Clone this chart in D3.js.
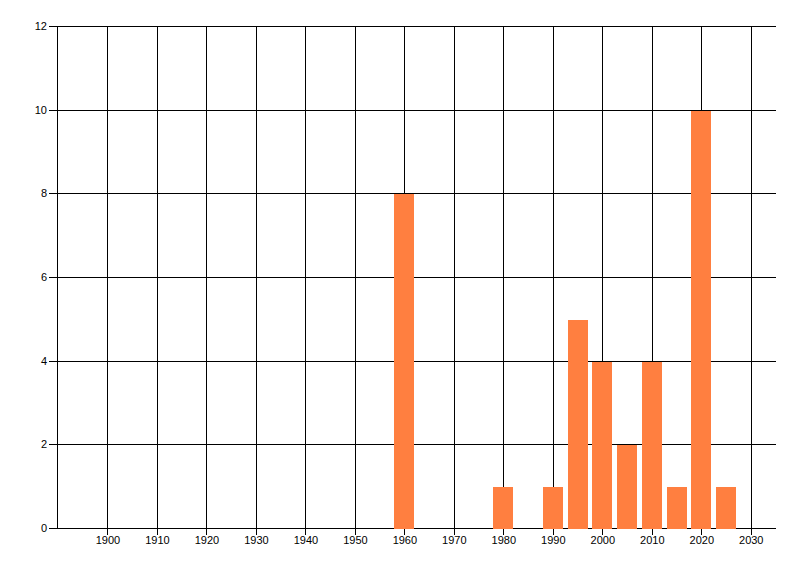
<!DOCTYPE html>
<html><head><meta charset="utf-8">
<script src="https://cdn.jsdelivr.net/npm/d3@7"></script>
<style>html,body{margin:0;padding:0;background:#fff;}svg{display:block;}</style>
</head><body>
<script>
const years = [1960, 1980, 1990, 1995, 2000, 2005, 2010, 2015, 2020, 2025];
const counts = [8, 1, 1, 5, 4, 2, 4, 1, 10, 1];
const xTicks = [1900, 1910, 1920, 1930, 1940, 1950, 1960, 1970, 1980, 1990, 2000, 2010, 2020, 2030];
const yTicks = [0, 2, 4, 6, 8, 10, 12];

const W = 800, H = 576;
const L = 57, R = 776, T = 26, B = 528;
const svg = d3.select("body").append("svg").attr("width", W).attr("height", H);

const x = d3.scaleLinear().domain([1889.8, 2035.1]).range([L, R]);
const y = d3.scaleLinear().domain([0, 12]).range([B, T]);
const px = v => Math.round(v) + 0.5;

const g = svg.append("g").attr("stroke", "#000").attr("stroke-width", 1).attr("shape-rendering", "crispEdges");
// horizontal gridlines with ticks
g.selectAll("line.h").data(yTicks).join("line").attr("class", "h")
  .attr("x1", L - 8).attr("x2", R).attr("y1", d => px(y(d))).attr("y2", d => px(y(d)));
// vertical gridlines with ticks
g.selectAll("line.v").data(xTicks).join("line").attr("class", "v")
  .attr("x1", d => px(x(d))).attr("x2", d => px(x(d))).attr("y1", px(T)).attr("y2", B + 7);
// left axis
g.append("line").attr("x1", px(L)).attr("x2", px(L)).attr("y1", px(T)).attr("y2", px(B));

// bars
const bw = x(1904) - x(1900);
svg.selectAll("rect.bar").data(years).join("rect").attr("class", "bar")
  .attr("x", (d) => Math.round(x(d) - bw / 2))
  .attr("width", Math.round(bw))
  .attr("y", (d, i) => Math.round(y(counts[i])) + 1)
  .attr("height", (d, i) => Math.round(y(0)) - Math.round(y(counts[i])))
  .attr("fill", "#ff7f40")
  .attr("shape-rendering", "crispEdges");

// bottom axis line on top of bars
g.append("line").attr("x1", L).attr("x2", R).attr("y1", px(B)).attr("y2", px(B));

// labels
svg.selectAll("text.y").data(yTicks).join("text").attr("class", "y")
  .attr("x", 47).attr("y", d => y(d)).attr("dy", "0.35em")
  .attr("text-anchor", "end").attr("font-family", "Liberation Sans, Arial, sans-serif")
  .attr("font-size", 11).attr("fill", "#000").text(d => d);
svg.selectAll("text.x").data(xTicks).join("text").attr("class", "x")
  .attr("x", d => x(d) + 0.5).attr("y", 540).attr("dy", "0.35em")
  .attr("text-anchor", "middle").attr("font-family", "Liberation Sans, Arial, sans-serif")
  .attr("font-size", 11).attr("fill", "#000").text(d => d);
</script>
</body></html>
